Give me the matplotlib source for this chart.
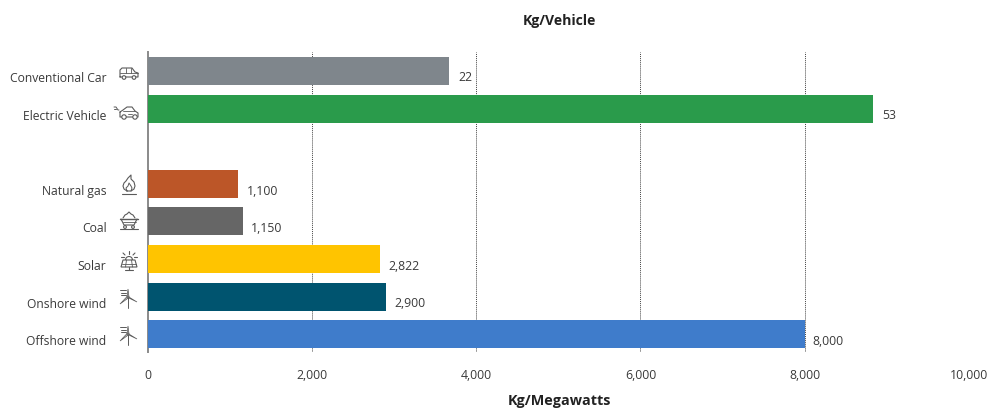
import matplotlib
matplotlib.use("Agg")
import matplotlib.pyplot as plt
from matplotlib.patches import Circle, Polygon, Arc
from matplotlib.lines import Line2D
from matplotlib.transforms import ScaledTranslation

plt.rcParams["font.family"] = ["Open Sans", "DejaVu Sans"]

W, H = 989, 408
TEXT = "#3a3a3a"
ICON = "#5a5a5a"

vehicle_names = ["Conventional Car", "Electric Vehicle"]
vehicle_kg = [22, 53]
vehicle_colors = ["#7f868c", "#2a9b4b"]

power_names = ["Natural gas", "Coal", "Solar", "Onshore wind", "Offshore wind"]
power_kg = [1100, 1150, 2822, 2900, 8000]
power_colors = ["#bc5628", "#666666", "#ffc400", "#00546f", "#3f7ccb"]

vehicle_rows = [0, 1]
power_rows = [3, 4, 5, 6, 7]
x_ticks = [0, 2000, 4000, 6000, 8000, 10000]


def line(ov, xs, ys, lw=0.8):
    ov.add_line(Line2D(xs, ys, color=ICON, lw=lw, solid_capstyle="round"))


def circle(ov, x, y, r, lw=0.8):
    ov.add_patch(Circle((x, y), r, fc="white", ec=ICON, lw=lw, zorder=3))


def car_icon(ov, x, y):
    # boxy car body with a row of windows
    line(ov, [x - 9, x - 9, x - 7, x + 3, x + 6, x + 9, x + 9, x - 9],
         [y + 3, y - 4, y - 6, y - 6, y - 2, y - 1, y + 3, y + 3])
    line(ov, [x - 9, x + 9], [y - 1, y - 1], lw=0.6)
    line(ov, [x - 3, x - 3], [y - 6, y - 1], lw=0.6)
    line(ov, [x + 2, x + 2], [y - 6, y - 1], lw=0.6)
    circle(ov, x - 5, y + 3.5, 1.8)
    circle(ov, x + 5, y + 3.5, 1.8)


def ev_icon(ov, x, y):
    line(ov, [x - 9, x - 6, x - 2, x + 3, x + 6, x + 9, x + 9, x - 9, x - 9],
         [y - 1, y - 3, y - 6, y - 6, y - 2, y, y + 4, y + 4, y - 1])
    line(ov, [x - 6, x + 6], [y - 2, y - 2], lw=0.6)
    line(ov, [x - 1, x + 3], [y + 1, y + 1], lw=0.6)
    circle(ov, x - 5, y + 4, 2.2)
    circle(ov, x + 6, y + 4, 2.2)
    line(ov, [x - 15, x - 13, x - 11, x - 10], [y - 6, y - 6, y - 3, y - 3], lw=0.7)
    line(ov, [x - 15, x - 13], [y - 4, y - 4], lw=0.7)


def flame_icon(ov, x, y):
    line(ov, [x - 2, x - 5, x - 6, x - 5, x - 3, x - 1, x + 2, x + 2, x + 5, x + 6, x + 5, x + 2, x - 2],
         [y + 6, y + 4, y + 1, y - 2, y - 4, y - 7, y - 10, y - 6, y - 3, y + 1, y + 4, y + 6, y + 6])
    line(ov, [x - 2, x - 3, x - 1, x, x + 2, x + 3, x + 2],
         [y + 6, y + 3, y + 1, y - 2, y + 1, y + 3, y + 6], lw=0.7)
    line(ov, [x - 7, x + 7], [y + 9, y + 9])


def coal_icon(ov, x, y):
    line(ov, [x - 9, x + 9], [y - 1, y - 1], lw=1.0)
    line(ov, [x - 8, x - 5, x + 5, x + 8], [y - 1, y + 5, y + 5, y - 1])
    line(ov, [x - 6.5, x + 6.5], [y + 2, y + 2], lw=0.6)
    line(ov, [x - 6, x - 4, x - 2, x, x + 2, x + 4, x + 6],
         [y - 2, y - 5, y - 6, y - 8, y - 6, y - 5, y - 2])
    circle(ov, x - 4, y + 7, 1.4)
    circle(ov, x + 4, y + 7, 1.4)
    line(ov, [x - 9, x + 9], [y + 9, y + 9])


def solar_icon(ov, x, y):
    ov.add_patch(Polygon([(x - 6, y), (x + 6, y), (x + 8, y + 7), (x - 8, y + 7)],
                         fill=False, ec=ICON, lw=0.8))
    line(ov, [x - 7, x + 7], [y + 3.5, y + 3.5], lw=0.6)
    for dx in (-2.5, 2.5):
        line(ov, [x + dx, x + dx * 1.4], [y, y + 7], lw=0.6)
    line(ov, [x, x], [y + 7, y + 10])
    line(ov, [x - 4, x + 4], [y + 10, y + 10])
    ov.add_patch(Arc((x, y), 7, 7, theta1=180, theta2=360, ec=ICON, lw=0.8))
    line(ov, [x, x], [y - 9, y - 6])
    line(ov, [x - 6, x - 4], [y - 7, y - 5])
    line(ov, [x + 6, x + 4], [y - 7, y - 5])
    line(ov, [x - 8, x - 5], [y - 3, y - 3])
    line(ov, [x + 8, x + 5], [y - 3, y - 3])


def wind_icon(ov, x, y):
    # turbine: thin tapered blades around the hub, wind streaks on the left
    line(ov, [x, x], [y, y + 11], lw=0.7)
    for tx, ty, sx, sy in [(x, y - 8, 1.0, 0.0), (x - 8, y + 7, 0.7, 0.7), (x + 9, y + 5, 0.5, 0.85)]:
        ov.add_patch(Polygon([(x - sx, y - sy), (tx, ty), (x + sx, y + sy)],
                             fc="#bdbdbd", ec=ICON, lw=0.5))
    circle(ov, x, y, 0.9, lw=0.6)
    line(ov, [x - 8, x - 2], [y - 7, y - 7], lw=0.7)
    line(ov, [x - 7.5, x - 2], [y - 4.5, y - 4.5], lw=0.7)
    line(ov, [x - 7, x - 2], [y - 2, y - 2], lw=0.7)


fig = plt.figure(figsize=(W / 100, H / 100), dpi=100, facecolor="white")
ax = fig.add_axes([148.2 / W, 1 - 352 / H, 820.4 / W, 300 / H])
ax.set_xlim(0, 10000)
ax.set_ylim(7.47, -0.505)

# the vehicle bars use their own kg scale, sharing the same plot area
top = ax.twiny()
top.set_xlim(0, 60)
top.axis("off")

ax.barh(power_rows, power_kg, height=0.745, color=power_colors, zorder=3)
top.barh(vehicle_rows, vehicle_kg, height=0.745, color=vehicle_colors, zorder=3)

for row, val in zip(power_rows, power_kg):
    ax.annotate(f"{val:,}", (val, row), xytext=(6, -5.2), textcoords="offset points",
                ha="left", va="center", fontsize=8.8, color=TEXT)
for row, val in zip(vehicle_rows, vehicle_kg):
    top.annotate(f"{val:,}", (val, row), xytext=(7, -4.6), textcoords="offset points",
                 ha="left", va="center", fontsize=8.8, color=TEXT)

ax.set_xticks(x_ticks)
ax.set_xticklabels([f"{t:,}" for t in x_ticks], fontsize=8.8, color=TEXT)
ax.tick_params(axis="x", length=0, pad=12)
ax.set_yticks(vehicle_rows + power_rows)
ax.set_yticklabels(vehicle_names + power_names, fontsize=8.7, color=TEXT)
ax.tick_params(axis="y", length=0, pad=30)
# row labels sit a little below the middle of their bars
label_shift = ScaledTranslation(0, -6 / 100, fig.dpi_scale_trans)
for lab in ax.get_yticklabels():
    lab.set_transform(lab.get_transform() + label_shift)
ax.grid(axis="x", color="#444444", lw=0.7, ls=(0, (1, 1)), zorder=1)
ax.set_axisbelow(True)
for side in ("top", "right", "bottom"):
    ax.spines[side].set_visible(False)
ax.spines["left"].set_color("#8a8a8a")
ax.spines["left"].set_linewidth(1.4)
ax.xaxis.get_gridlines()[0].set_visible(False)

fig.text(559 / W, 1 - 21 / H, "Kg/Vehicle", ha="center", va="center",
         fontsize=10.1, fontweight="bold", color="#222222")
fig.text(559 / W, 1 - 401 / H, "Kg/Megawatts", ha="center", va="center",
         fontsize=10.4, fontweight="bold", color="#222222")

# pixel-space layer for the small line icons beside the labels
ov = fig.add_axes([0, 0, 1, 1])
ov.set_xlim(0, W)
ov.set_ylim(H, 0)
ov.axis("off")
car_icon(ov, 129, 74)
ev_icon(ov, 129, 113)
flame_icon(ov, 129, 185)
coal_icon(ov, 129, 220)
solar_icon(ov, 129, 260)
wind_icon(ov, 128, 297)
wind_icon(ov, 128, 334)

fig.savefig("out.png", dpi=100)
